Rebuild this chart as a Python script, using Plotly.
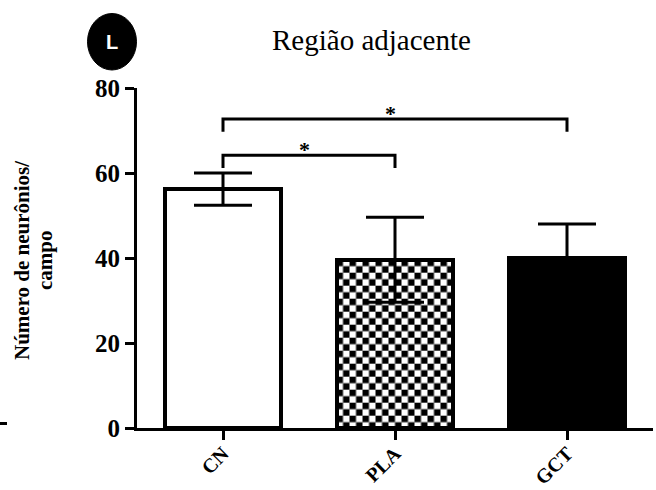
import base64
import plotly.graph_objects as go

# Group means and SEM (neurons per field)
categories = ["CN", "PLA", "GCT"]
means = [56.2, 39.6, 40.0]
sems = [3.8, 10.0, 8.0]
y_ticks = [0, 20, 40, 60, 80]

# Significance comparisons: (group a, group b, bracket height, label)
comparisons = [(0, 2, 72.7, "*"), (0, 1, 64.2, "*")]

title_text = "Região adjacente"
panel_letter = "L"
y_title_lines = ["Número de neurônios/", "campo"]

# Plot-area geometry in pixels
W, H = 656, 490
L_M, R_M, T_M, B_M = 137, 3, 88, 62
PW, PH = W - L_M - R_M, H - T_M - B_M
BAR_W = 0.68
SERIF = "Liberation Serif"


def px_x(px):
    return (px - L_M) / PW


def px_y(py):
    return (H - B_M - py) / PH


xpos = list(range(len(categories)))
fills = ["white", "rgba(0,0,0,0)", "black"]

fig = go.Figure()
fig.add_trace(go.Bar(
    x=xpos, y=means, width=BAR_W,
    marker=dict(color=fills, line=dict(color="black", width=4)),
    error_y=dict(type="data", array=sems, visible=True,
                 color="black", thickness=3, width=29),
    showlegend=False,
))

# Checkerboard fill for the PLA bar
sq = 6.5
bar_px_w = BAR_W * PW / 3.0
bar_px_h = means[1] * PH / 80.0
svg = (
    f'<svg xmlns="http://www.w3.org/2000/svg" width="{bar_px_w:.1f}" height="{bar_px_h:.1f}" '
    f'viewBox="0 0 {bar_px_w:.1f} {bar_px_h:.1f}" preserveAspectRatio="none">'
    f'<defs><pattern id="c" width="{2*sq}" height="{2*sq}" patternUnits="userSpaceOnUse">'
    f'<rect width="{2*sq}" height="{2*sq}" fill="white"/>'
    f'<rect width="{sq}" height="{sq}" fill="black"/>'
    f'<rect x="{sq}" y="{sq}" width="{sq}" height="{sq}" fill="black"/>'
    f'</pattern></defs><rect width="100%" height="100%" fill="url(#c)"/></svg>'
)
src = "data:image/svg+xml;base64," + base64.b64encode(svg.encode()).decode()
fig.add_layout_image(dict(
    source=src, xref="x", yref="y",
    x=xpos[1] - BAR_W / 2, y=means[1], sizex=BAR_W, sizey=means[1],
    xanchor="left", yanchor="top", sizing="stretch", layer="below",
))

# Significance brackets
for a, b, h, lab in comparisons:
    drop = 3.0
    fig.add_shape(type="path",
                  path=f"M {a},{h-drop} L {a},{h} L {b},{h} L {b},{h-drop}",
                  xref="x", yref="y", line=dict(color="black", width=3))
    fig.add_annotation(x=(a + b) / 2, y=h, xref="x", yref="y", text=lab,
                       showarrow=False, yanchor="bottom", xshift=-5, yshift=-9,
                       font=dict(family=SERIF, size=22, color="black", weight="bold"))

# Title
fig.add_annotation(x=px_x(371), y=px_y(40), xref="paper", yref="paper",
                   text=title_text, showarrow=False, xanchor="center", yanchor="middle",
                   font=dict(family=SERIF, size=29, color="black"))

# Panel letter badge
fig.add_shape(type="circle", xref="paper", yref="paper",
              x0=px_x(87.5), x1=px_x(136.5), y0=px_y(70), y1=px_y(13.5),
              fillcolor="black", line=dict(color="black", width=1))
fig.add_annotation(x=px_x(112), y=px_y(42), xref="paper", yref="paper",
                   text=panel_letter, showarrow=False, xanchor="center", yanchor="middle",
                   font=dict(family="Liberation Sans", size=20, color="white", weight="bold"))

# Y-axis title (two lines)
for txt, cx in zip(y_title_lines, [22, 45]):
    fig.add_annotation(x=px_x(cx), y=px_y(260), xref="paper", yref="paper",
                       text=txt, showarrow=False, textangle=-90,
                       xanchor="center", yanchor="middle",
                       font=dict(family=SERIF, size=21, color="black", weight="bold"))

# Small stray mark at the left edge
fig.add_shape(type="line", xref="paper", yref="paper",
              x0=px_x(0), x1=px_x(7), y0=px_y(423.5), y1=px_y(423.5),
              line=dict(color="black", width=3))

fig.update_layout(
    width=W, height=H,
    margin=dict(l=L_M, r=R_M, t=T_M, b=B_M),
    paper_bgcolor="white", plot_bgcolor="white",
    bargap=0,
    xaxis=dict(range=[-0.5, 2.5], tickvals=xpos, ticktext=categories,
               tickangle=-45, showline=True, linecolor="black", linewidth=3,
               ticks="outside", ticklen=9, tickwidth=3, tickcolor="black",
               ticklabelstandoff=-6,
               showgrid=False, zeroline=False, automargin=False,
               tickfont=dict(family=SERIF, size=20, color="black", weight="bold")),
    yaxis=dict(range=[0, 80], tickvals=y_ticks, showline=True, linecolor="black",
               linewidth=3, ticks="outside", ticklen=9, tickwidth=3, tickcolor="black",
               showgrid=False, zeroline=False, automargin=False,
               tickfont=dict(family=SERIF, size=25, color="black", weight="bold")),
)

fig.write_html("out.html")
